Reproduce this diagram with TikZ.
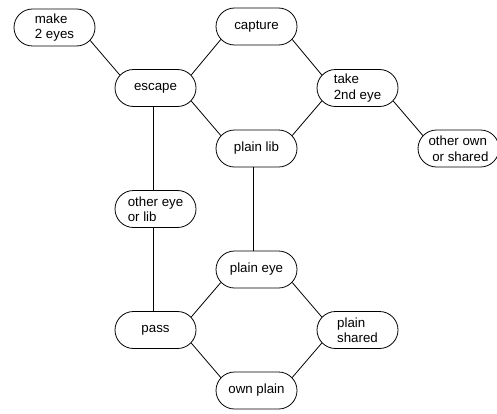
\documentclass[tikz,border=0pt]{standalone}
\usepackage{fontspec}
\setmainfont{Liberation Sans}
\usetikzlibrary{shapes.misc}
\begin{document}
\begin{tikzpicture}[x=101pt, y=-60.5pt]
  \clip (-0.5396, -0.4545) rectangle (4.381, 6.372);

  \tikzstyle{state}=[rounded rectangle, draw, line width=0.8pt, minimum width=85pt, minimum height=37pt, inner sep=2pt, align=left, font=\fontsize{13.3}{15.5}\selectfont]
  \tikzstyle{link}=[draw, line width=0.8pt]

  \node[state] (make) at (0, 0) {make\\2 eyes};
  \node[state] (capture) at (2, -0.0165) {capture};
  \node[state] (escape) at (1, 1) {escape};
  \node[state] (take) at (3, 1) {take\\2nd eye};
  \node[state] (plainlib) at (2, 2) {plain lib};
  \node[state] (otherown) at (4, 2) {other own\\\ or shared};
  \node[state] (othereye) at (1, 3) {other eye\\or lib};
  \node[state] (plaineye) at (2, 4) {plain eye};
  \node[state] (pass) at (1, 5) {pass};
  \node[state] (plainshared) at (3, 5) {plain\\shared};
  \node[state] (ownplain) at (2, 6) {own plain};

  \path[link] (make.-20) edge (escape.160);
  \path[link] (escape.20) edge (capture.200);
  \path[link] (escape.-20) edge (plainlib.160);
  \path[link] (capture.-20) edge (take.160);
  \path[link] (take.200) edge (plainlib.20);
  \path[link] (take.-20) edge (otherown.160);
  \path[link] ([xshift=-2pt]escape.south) edge ([xshift=-2pt]othereye.north);
  \path[link] ([xshift=-2pt]othereye.south) edge ([xshift=-2pt]pass.north);
  \path[link] ([xshift=-3pt]plainlib.south) edge ([xshift=-3pt]plaineye.north);
  \path[link] (plaineye.200) edge (pass.20);
  \path[link] (plaineye.-20) edge (plainshared.160);
  \path[link] (pass.-20) edge (ownplain.160);
  \path[link] (ownplain.20) edge (plainshared.200);
\end{tikzpicture}
\end{document}
